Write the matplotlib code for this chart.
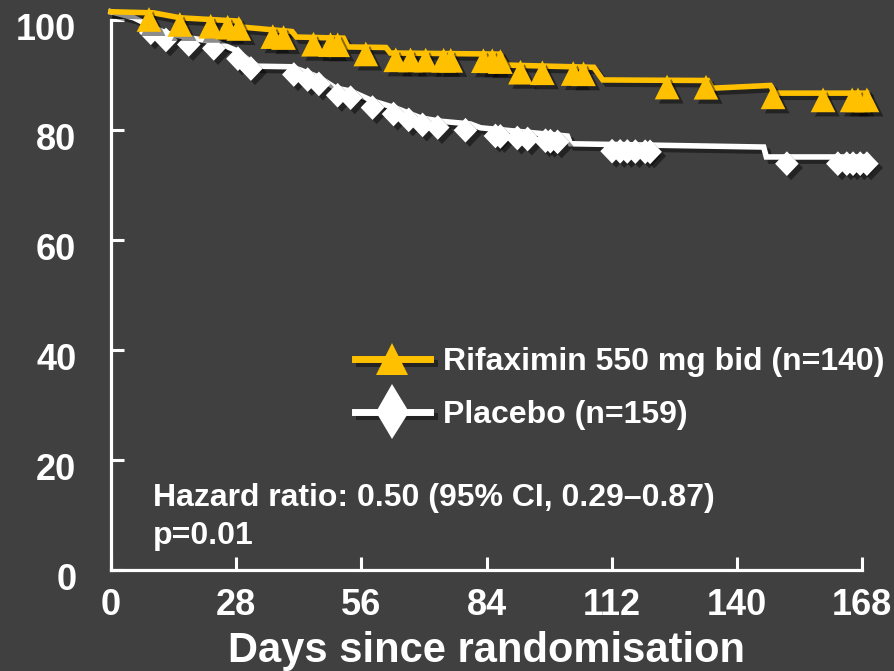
import numpy as np
import matplotlib
matplotlib.use("Agg")
import matplotlib.pyplot as plt
import matplotlib.patheffects as pe
import matplotlib.transforms as mtransforms
from matplotlib.path import Path
from matplotlib.lines import Line2D

plt.rcParams['font.family'] = ['Liberation Sans', 'DejaVu Sans']
plt.rcParams['font.weight'] = 'bold'

# curves: days since randomisation vs % event-free
rif_days = [0, 9.5, 15.5, 28.5, 29.5, 40.5, 41.5, 52, 53, 61.5, 62.5, 87, 88.5,
            108, 110, 133.5, 134.5, 147.5, 148.5, 169]
rif_vals = [101.5, 101.3, 100.4, 99.8, 98.7, 97.9, 96.9, 96.7, 95.1, 95.0, 94.0,
            93.8, 91.8, 91.4, 89.1, 89.0, 87.6, 88.1, 86.7, 86.7]
rif_cens = [8.5, 15.4, 22.3, 26.1, 28.6, 36.2, 38.6, 45.3, 49.1, 50.7, 57.0, 63.7,
            67.0, 70.4, 74.4, 76.0, 83.3, 85.3, 87.1, 91.6, 96.5, 103.4, 105.7,
            124.4, 133.1, 148.1, 159.3, 165.8, 167.1, 169.1]

pla_days = [0, 5.1, 8.9, 12.3, 17.9, 23.5, 27.9, 31.3, 32.8, 40.2, 42.4, 46.5, 50.3,
            53.6, 58.5, 63.7, 69.3, 73.7, 80.4, 82.7, 102.1, 102.8, 146, 146.6, 169]
pla_vals = [101.5, 100.4, 98.9, 97.6, 96.7, 96.0, 94.5, 92.4, 91.6, 91.5, 90.9, 89.6,
            87.6, 87.1, 85.3, 84.0, 82.2, 81.6, 81.1, 80.4, 78.9, 77.5, 76.9, 75.1, 75.1]
pla_cens = [8.9, 12.3, 17.4, 23.0, 28.4, 31.3, 40.9, 44.0, 46.5, 50.7, 53.6, 58.5,
            63.2, 66.6, 69.7, 73.1, 79.3, 86.0, 87.1, 90.9, 93.2, 97.2, 98.3, 99.9,
            112.1, 113.9, 115.5, 117.3, 119.5, 120.6, 151.2, 162.6, 164.6, 166.0,
            167.6, 169.1]

xticks = [0, 28, 56, 84, 112, 140, 168]
yticks = [0, 20, 40, 60, 80, 100]
lbl_rif = "Rifaximin 550 mg bid (n=140)"
lbl_pla = "Placebo (n=159)"

BG = '#404040'
YEL = '#FFC000'
WHT = '#FFFFFF'

# censor marks hang a little below the curve, apex near the line
tri_mark = Path([(0, 5), (-11, -17), (11, -17), (0, 5)],
                [Path.MOVETO, Path.LINETO, Path.LINETO, Path.CLOSEPOLY])
dia_mark = Path([(0, 5), (10.5, -6), (0, -17), (-10.5, -6), (0, 5)],
                [Path.MOVETO, Path.LINETO, Path.LINETO, Path.LINETO, Path.CLOSEPOLY])

line_fx = [pe.SimpleLineShadow(offset=(3, -3), shadow_color='black', alpha=0.45), pe.Normal()]
mark_fx = [pe.SimplePatchShadow(offset=(3, -3), shadow_rgbFace='black', alpha=0.45), pe.Normal()]

fig = plt.figure(figsize=(8.94, 6.71), dpi=100, facecolor=BG)
ax = fig.add_axes([111/894, 101/671, 751/894, 550/671])
ax.set_facecolor(BG)

for days, vals, cens, col, mk, z in [(pla_days, pla_vals, pla_cens, WHT, dia_mark, 3),
                                      (rif_days, rif_vals, rif_cens, YEL, tri_mark, 5)]:
    ax.plot(days, vals, color=col, lw=4, clip_on=False, zorder=z,
            solid_joinstyle='miter', path_effects=line_fx)
    ax.plot(cens, np.interp(cens, days, vals), ls='none', marker=mk, ms=27.5,
            mfc=col, mew=0, clip_on=False, zorder=z + 1, path_effects=mark_fx)

ax.set_xlim(0, 168)
ax.set_ylim(0, 100)
for s in ['top', 'right']:
    ax.spines[s].set_visible(False)
for s in ['left', 'bottom']:
    ax.spines[s].set_color(WHT)
    ax.spines[s].set_linewidth(2.3)
    ax.spines[s].set_capstyle('projecting')

ax.set_xticks(xticks)
ax.set_yticks(yticks)
ax.set_xticks([168], minor=True)
ax.tick_params(axis='both', which='major', direction='in', color=WHT, width=2.2,
               length=9.5, labelcolor=WHT, labelsize=26)
ax.tick_params(axis='x', which='major', pad=13)
ax.tick_params(axis='y', which='major', pad=25)
ax.tick_params(axis='x', which='minor', direction='in', color=WHT, width=2.2, length=13)
# y labels on the slide sit a few pixels below their ticks
shift = mtransforms.ScaledTranslation(0, -6/100, fig.dpi_scale_trans)
for t in ax.get_yticklabels():
    t.set_transform(t.get_transform() + shift)
ax.set_xlabel("Days since randomisation", color=WHT, fontsize=30,
              fontweight='bold', labelpad=6)

ax.text(0.056, 0.116, "Hazard ratio: 0.50 (95% CI, 0.29\u20130.87)", transform=ax.transAxes,
        color=WHT, fontsize=23, fontweight='bold', va='baseline')
ax.text(0.056, 0.048, "p=0.01", transform=ax.transAxes,
        color=WHT, fontsize=23, fontweight='bold', va='baseline')

h_rif = Line2D([], [], color=YEL, lw=5, marker='^', ms=23, mew=0,
               path_effects=[pe.SimpleLineShadow(offset=(3, -3), alpha=0.45), pe.Normal()])
h_pla = Line2D([], [], color=WHT, lw=5, marker='d', ms=28, mew=0,
               path_effects=[pe.SimpleLineShadow(offset=(3, -3), alpha=0.45), pe.Normal()])
leg = ax.legend([h_rif, h_pla], [lbl_rif, lbl_pla], loc='upper left',
                bbox_to_anchor=(355/894, (671-347)/671), bbox_transform=fig.transFigure,
                frameon=False, borderpad=0, borderaxespad=0,
                handlelength=2.34, handletextpad=0.4, labelspacing=0.72,
                labelcolor=WHT, prop={'weight': 'bold', 'size': 23})

fig.savefig("out.png", dpi=100, facecolor=BG)
